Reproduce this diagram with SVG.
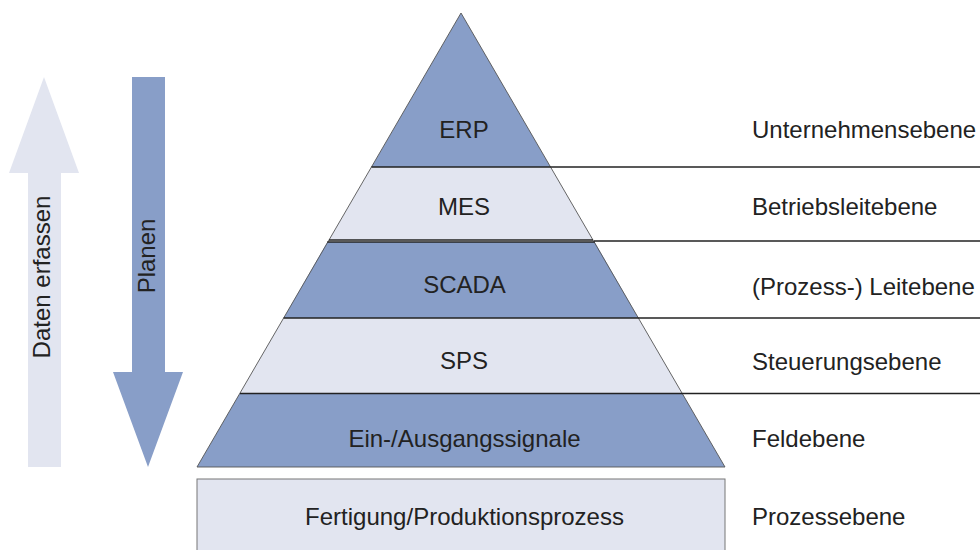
<svg xmlns="http://www.w3.org/2000/svg" width="980" height="550" viewBox="0 0 980 550">
<style>
  .t { font-family: "Liberation Sans", Arial, sans-serif; font-size: 24px; fill: #222; }
  .c { text-anchor: middle; }
  .blue { fill: #889EC8; }
  .light { fill: #E2E5F0; }
  .edge { fill: none; stroke: #555; stroke-width: 0.9; }
  .sep { stroke: #222; stroke-width: 1.3; fill: none; }
</style>
<rect x="0" y="0" width="980" height="550" fill="#ffffff"/>

<g id="arrow-daten-erfassen">
  <polygon class="light" points="44,77 79,173 61,173 61,467 28,467 28,173 9,173"/>
  <text class="t c" transform="translate(50,277) rotate(-90)">Daten erfassen</text>
</g>
<g id="arrow-planen">
  <polygon class="blue" points="132,77 165,77 165,372 183,372 148,467 113,372 132,372"/>
  <text class="t c" transform="translate(155,256) rotate(-90)">Planen</text>
</g>

<g id="erp">
  <polygon class="blue" points="461,13 550.5,167 371.5,167"/>
  <text class="t c" x="464" y="138">ERP</text>
</g>
<g id="mes">
  <polygon class="light" points="371.5,167 550.5,167 593,240 329,240"/>
  <text class="t c" x="464" y="215">MES</text>
</g>
<g id="scada">
  <polygon class="blue" points="327.3,242 594.7,242 638.4,318 283.6,318"/>
  <text class="t c" x="464.5" y="293">SCADA</text>
</g>
<g id="sps">
  <polygon class="light" points="283.6,318 638.4,318 682,393 240,393"/>
  <text class="t c" x="464" y="369">SPS</text>
</g>
<g id="ein-ausgang">
  <polygon class="blue" points="240,393 682,393 725,467 197,467"/>
  <text class="t c" x="464.5" y="447">Ein-/Ausgangssignale</text>
</g>
<g id="fertigung">
  <rect class="light" x="197" y="479" width="528" height="80" stroke="#777" stroke-width="1"/>
  <text class="t c" x="464.5" y="525">Fertigung/Produktionsprozess</text>
</g>

<g id="pyramid-outline">
  <polyline class="edge" points="197,467 461,13 725,467 197,467"/>
</g>

<g id="connectors">
  <line class="sep" x1="371.5" y1="167" x2="980" y2="167"/>
  <line class="sep" x1="329" y1="240" x2="593" y2="240"/>
  <line class="sep" x1="327.3" y1="242" x2="594.7" y2="242"/>
  <line class="sep" x1="594" y1="241" x2="980" y2="241"/>
  <line class="sep" x1="283.6" y1="318" x2="980" y2="318"/>
  <line class="sep" x1="240" y1="393.5" x2="980" y2="393.5" stroke-width="1.8"/>
</g>

<g id="level-labels">
  <text class="t" x="752" y="138">Unternehmensebene</text>
  <text class="t" x="752" y="215">Betriebsleitebene</text>
  <text class="t" x="752" y="295">(Prozess-) Leitebene</text>
  <text class="t" x="752" y="370">Steuerungsebene</text>
  <text class="t" x="752" y="447">Feldebene</text>
  <text class="t" x="752" y="525">Prozessebene</text>
</g>
</svg>
